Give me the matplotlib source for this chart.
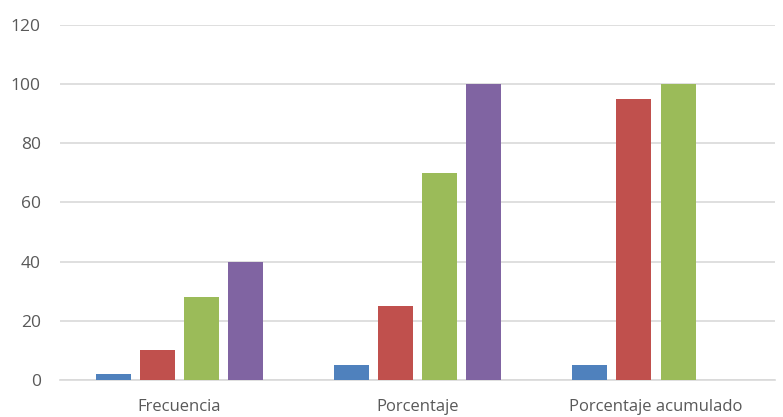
import numpy as np
from matplotlib import pyplot as plt

categorias = ['Frecuencia', 'Porcentaje', 'Porcentaje acumulado']
serie_azul = [2, 5, 5]
serie_roja = [10, 25, 95]
serie_verde = [28, 70, 100]
serie_morada = [40, 100, np.nan]
colores = ['#4F81BD', '#C0504D', '#9BBB59', '#8064A2']

series = [serie_azul, serie_roja, serie_verde, serie_morada]

fig = plt.figure(figsize=(7.83, 4.17), dpi=100)
ax = fig.add_axes([0.077, 0.089, 0.913, 0.851])

x = np.arange(len(categorias))
paso = 0.185
ancho = 0.147
for i, (vals, col) in enumerate(zip(series, colores)):
    ax.bar(x + (i - 1.5) * paso, vals, ancho, color=col, zorder=3)

ax.set_xlim(-0.5, len(categorias) - 0.5)
ax.set_ylim(0, 120)
ax.set_yticks(range(0, 121, 20))
ax.set_xticks(x)
ax.set_xticklabels(categorias)

ax.yaxis.grid(True, color='#d9d9d9', linewidth=1.2, zorder=0)
for s in ['top', 'right', 'left']:
    ax.spines[s].set_visible(False)
ax.spines['bottom'].set_color('#d9d9d9')
ax.spines['bottom'].set_linewidth(1.2)
ax.tick_params(axis='both', length=0, colors='#595959')
ax.tick_params(axis='y', pad=14, labelsize=12.5)
ax.tick_params(axis='x', pad=14, labelsize=12)
for lbl in ax.get_xticklabels() + ax.get_yticklabels():
    lbl.set_fontfamily('Open Sans')

fig.savefig('out.png')
